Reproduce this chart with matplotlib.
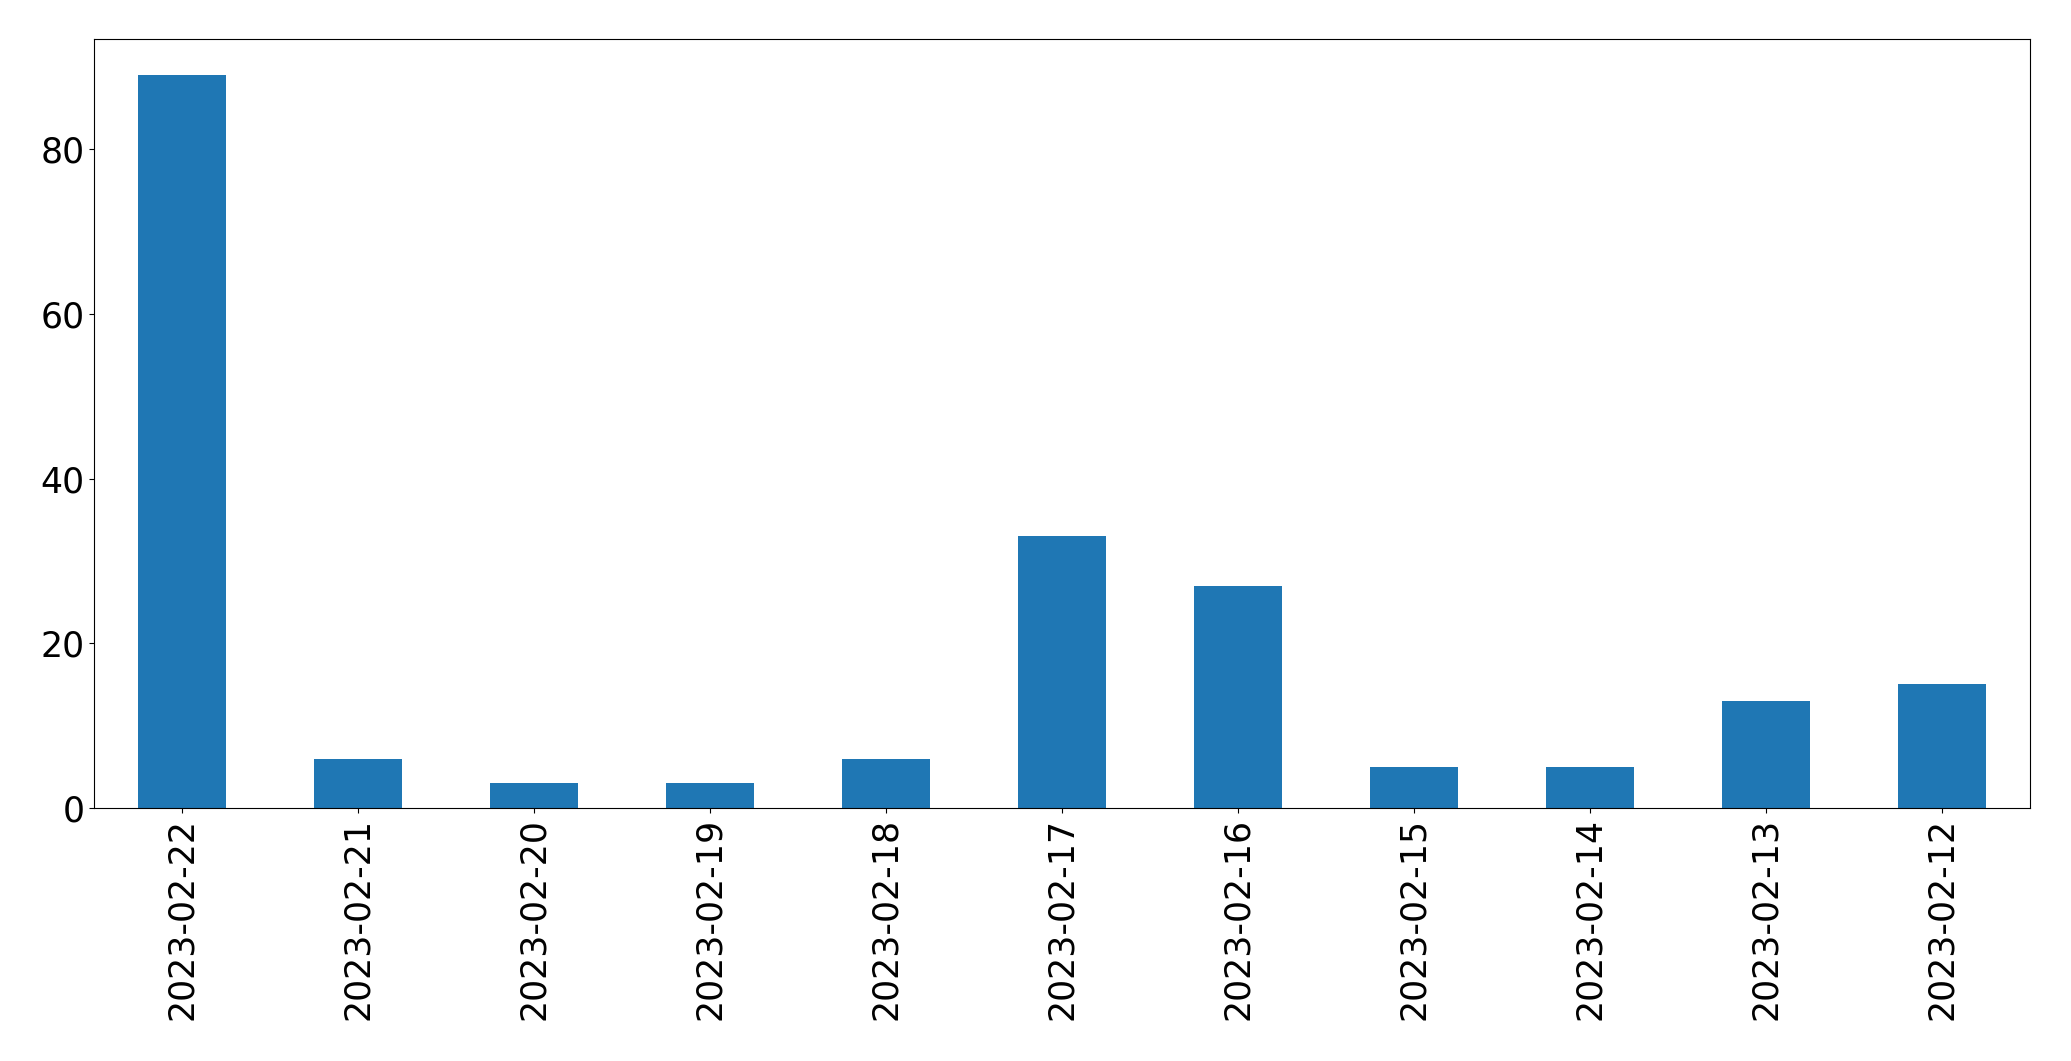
import matplotlib
matplotlib.use("Agg")
import matplotlib.pyplot as plt
import numpy as np

dates = ["2023-02-22", "2023-02-21", "2023-02-20", "2023-02-19", "2023-02-18",
         "2023-02-17", "2023-02-16", "2023-02-15", "2023-02-14", "2023-02-13",
         "2023-02-12"]
counts = [89, 6, 3, 3, 6, 33, 27, 5, 5, 13, 15]

fig = plt.figure(figsize=(20.71, 10.61), dpi=100)
ax = fig.add_axes([0.0455, 0.2385, 0.9345, 0.725])

x = np.arange(len(dates))
ax.bar(x, counts, width=0.5, color="#1f77b4")
ax.set_xlim(-0.5, len(dates) - 0.5)
ax.set_ylim(0, 93.45)
ax.set_xticks(x)
ax.set_xticklabels(dates, rotation=90)
ax.set_yticks([0, 20, 40, 60, 80])
ax.tick_params(labelsize=25)

fig.savefig("out.png", dpi=100)
